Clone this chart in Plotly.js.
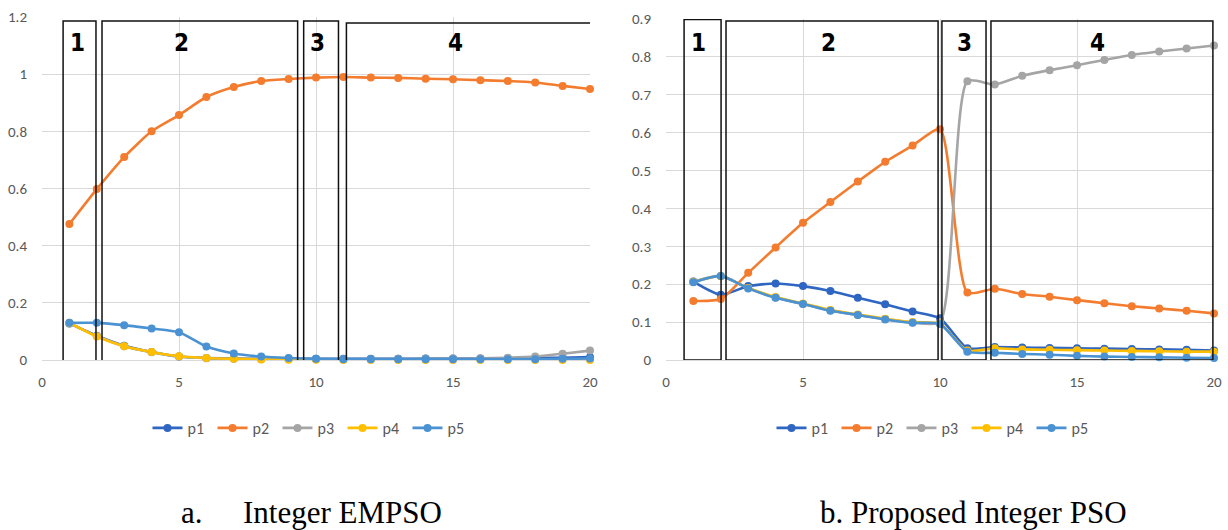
<!DOCTYPE html>
<html>
<head>
<meta charset="utf-8">
<script src="https://cdn.plot.ly/plotly-3.0.1.min.js"></script>
<style>
html,body{margin:0;padding:0;background:#fff;}
#chart{width:1228px;height:530px;}
</style>
</head>
<body>
<div id="chart"></div>
<script>
// ---- data ----
const iterations = [1,2,3,4,5,6,7,8,9,10,11,12,13,14,15,16,17,18,19,20];
const seriesNames = ['p1','p2','p3','p4','p5'];
const seriesColors = ['#2F66C2','#F37C2E','#A5A5A5','#FFBF00','#4B92D2'];

// a. Integer EMPSO
const empso_p1 = [0.128,0.085,0.050,0.028,0.012,0.007,0.005,0.004,0.004,0.004,0.004,0.004,0.004,0.005,0.005,0.005,0.006,0.007,0.008,0.010];
const empso_p2 = [0.476,0.598,0.710,0.800,0.857,0.920,0.955,0.976,0.983,0.988,0.990,0.988,0.987,0.984,0.982,0.979,0.976,0.971,0.959,0.948];
const empso_p3 = [0.128,0.084,0.048,0.027,0.012,0.006,0.004,0.003,0.003,0.003,0.003,0.003,0.004,0.005,0.005,0.006,0.008,0.012,0.022,0.033];
const empso_p4 = [0.130,0.082,0.048,0.028,0.013,0.007,0.004,0.002,0.001,0.001,0,0,0,0,0,0,0,0,0,0];
const empso_p5 = [0.130,0.130,0.122,0.110,0.097,0.047,0.023,0.012,0.007,0.004,0.003,0.003,0.003,0.003,0.003,0.003,0.003,0.003,0.004,0.005];

// b. Proposed Integer PSO
const pso_p1 = [0.207,0.172,0.195,0.202,0.195,0.182,0.164,0.147,0.128,0.110,0.031,0.034,0.033,0.032,0.031,0.030,0.029,0.028,0.027,0.025];
const pso_p2 = [0.156,0.161,0.230,0.297,0.362,0.417,0.471,0.523,0.566,0.609,0.178,0.188,0.174,0.167,0.158,0.150,0.142,0.136,0.130,0.123];
const pso_p3 = [0.207,0.222,0.190,0.165,0.148,0.131,0.119,0.108,0.099,0.100,0.736,0.727,0.750,0.765,0.778,0.792,0.805,0.814,0.822,0.830];
const pso_p4 = [0.206,0.221,0.190,0.166,0.149,0.132,0.120,0.109,0.100,0.096,0.025,0.031,0.028,0.027,0.026,0.025,0.024,0.023,0.022,0.022];
const pso_p5 = [0.205,0.222,0.189,0.164,0.148,0.130,0.119,0.107,0.098,0.095,0.022,0.019,0.016,0.014,0.011,0.009,0.008,0.007,0.006,0.005];

// phase boxes (axis units): [x0, x1, y0, y1]
const empsoPhases = [[0.77,1.97,-0.007,1.186],[2.19,9.33,-0.010,1.186],[9.55,10.82,-0.017,1.186],[11.11,20.15,-0.014,1.179]];
const psoPhases   = [[0.66,2.01,0,0.899],[2.19,9.93,0,0.895],[10.07,11.68,0,0.895],[11.86,19.96,0,0.895]];
const phaseLabels = ['1','2','3','4'];
const empsoLabelPos = [[1.31,1.109],[5.10,1.109],[10.05,1.109],[15.08,1.109]];
const psoLabelPos   = [[1.17,0.837],[5.92,0.837],[10.90,0.837],[15.76,0.837]];

const captionA1 = 'a.';
const captionA2 = 'Integer EMPSO';
const captionB = 'b. Proposed Integer PSO';

// ---- build ----
const empsoData = [empso_p1,empso_p2,empso_p3,empso_p4,empso_p5];
const psoData = [pso_p1,pso_p2,pso_p3,pso_p4,pso_p5];
const traces = [];
function addTraces(dataSets, xa, ya, legendId){
  dataSets.forEach((ys,i)=>{
    traces.push({
      x: iterations, y: ys, type:'scatter', mode:'lines+markers',
      name: seriesNames[i], xaxis: xa, yaxis: ya, legend: legendId,
      line:{color:seriesColors[i], width:2.6, shape:'spline', smoothing:0.6},
      marker:{color:seriesColors[i], size:8},
      cliponaxis:false
    });
  });
}
addTraces(empsoData,'x','y','legend');
addTraces(psoData,'x2','y2','legend2');

const W = 1228, H = 530;
const tickFont = {family:'Carlito, Lato, "Liberation Sans", sans-serif', size:15, color:'#595959'};
const gridCol = '#D9D9D9';
function xaxisDef(px0, px1){
  return {domain:[px0/W, px1/W], range:[0,20], dtick:5, tick0:0, showgrid:true, gridcolor:gridCol,
    zeroline:false, showline:false, ticks:'outside', ticklen:8, tickcolor:'rgba(0,0,0,0)',
    tickfont:tickFont, fixedrange:true};
}
function yaxisDef(py0, py1, max, dt, anchor){
  return {domain:[1-py1/H, 1-py0/H], range:[0,max], dtick:dt, tick0:0, showgrid:true, gridcolor:gridCol,
    zeroline:true, zerolinecolor:gridCol, zerolinewidth:1, showline:false,
    ticks:'outside', ticklen:11, tickcolor:'rgba(0,0,0,0)', tickfont:tickFont,
    anchor:anchor, fixedrange:true};
}

const shapes = [];
empsoPhases.forEach(b=>shapes.push({type:'rect', xref:'x', yref:'y', x0:b[0], x1:b[1], y0:b[2], y1:b[3], line:{color:'#111', width:1.5}, layer:'above'}));
psoPhases.forEach(b=>shapes.push({type:'rect', xref:'x2', yref:'y2', x0:b[0], x1:b[1], y0:b[2], y1:b[3], line:{color:'#111', width:1.5}, layer:'above'}));

const labelFont = {family:'"Liberation Sans Narrow", "DejaVu Sans Condensed", "Arial Narrow", sans-serif', size:24, color:'#000', weight:'bold'};
const annotations = [];
empsoLabelPos.forEach((p,i)=>annotations.push({xref:'x', yref:'y', x:p[0], y:p[1], text:'<b>'+phaseLabels[i]+'</b>', showarrow:false, font:labelFont}));
psoLabelPos.forEach((p,i)=>annotations.push({xref:'x2', yref:'y2', x:p[0], y:p[1], text:'<b>'+phaseLabels[i]+'</b>', showarrow:false, font:labelFont}));
const capFont = {family:'"Liberation Serif", "Times New Roman", serif', size:31, color:'#000'};
annotations.push({xref:'paper', yref:'paper', x:192/W, y:1-512/H, text:captionA1, showarrow:false, font:capFont, xanchor:'center', yanchor:'middle'});
annotations.push({xref:'paper', yref:'paper', x:342/W, y:1-512/H, text:captionA2, showarrow:false, font:capFont, xanchor:'center', yanchor:'middle'});
annotations.push({xref:'paper', yref:'paper', x:973/W, y:1-512/H, text:captionB, showarrow:false, font:capFont, xanchor:'center', yanchor:'middle'});

const legendBase = {orientation:'h', xref:'paper', yref:'paper', xanchor:'center', yanchor:'middle',
  font:{family:'Carlito, Lato, "Liberation Sans", sans-serif', size:16, color:'#595959'},
  bgcolor:'rgba(0,0,0,0)', itemwidth:30, entrywidth:20, entrywidthmode:'pixels', itemclick:false, itemdoubleclick:false};

const layout = {
  width:W, height:H, margin:{l:0,r:0,t:0,b:0}, paper_bgcolor:'#fff', plot_bgcolor:'#fff',
  showlegend:true,
  xaxis: xaxisDef(42, 590),
  yaxis: yaxisDef(17, 360, 1.2, 0.2, 'x'),
  xaxis2: Object.assign(xaxisDef(666, 1214), {anchor:'y2'}),
  yaxis2: yaxisDef(19, 360, 0.9, 0.1, 'x2'),
  legend: Object.assign({}, legendBase, {x:310/W, y:1-428/H}),
  legend2: Object.assign({}, legendBase, {x:934/W, y:1-428/H}),
  shapes: shapes,
  annotations: annotations
};
layout.xaxis.anchor = 'y';

Plotly.newPlot('chart', traces, layout, {staticPlot:true, displayModeBar:false});
</script>
</body>
</html>
